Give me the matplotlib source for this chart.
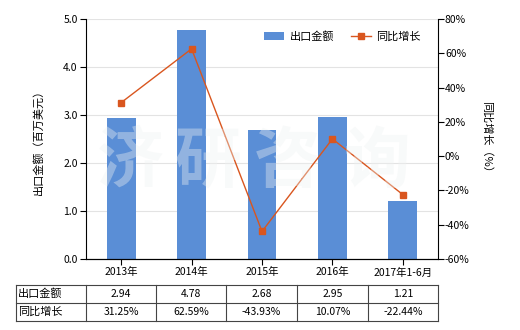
import matplotlib
matplotlib.use("Agg")
import matplotlib.pyplot as plt
import numpy as np

plt.rcParams['font.family'] = ['Noto Sans CJK SC', 'DejaVu Sans']

categories = ['2013年', '2014年', '2015年', '2016年', '2017年1-6月']
export_values = [2.94, 4.78, 2.68, 2.95, 1.21]
growth_values = [31.25, 62.59, -43.93, 10.07, -22.44]
export_labels = ['2.94', '4.78', '2.68', '2.95', '1.21']
growth_labels = ['31.25%', '62.59%', '-43.93%', '10.07%', '-22.44%']

bar_color = '#5a8ed6'
line_color = '#d9561f'
fs = 7.5

fig = plt.figure(figsize=(5.2, 3.3), dpi=100)
ax = fig.add_axes([86/520, 1-259/330, 352/520, 240/330])
x = np.arange(len(categories))
ax.bar(x, export_values, width=0.41, color=bar_color, label='出口金额', zorder=2)
ax.set_xlim(-0.5, len(categories)-0.5)
ax.set_ylim(0, 5)
ax.set_yticks(np.arange(0, 5.01, 1.0))
ax.set_yticklabels([f'{v:.1f}' for v in np.arange(0, 5.01, 1.0)], fontsize=fs)
ax.set_xticks(x)
ax.set_xticklabels(categories, fontsize=fs)
ax.grid(axis='y', color='#e3e3e3', linewidth=0.8, zorder=0)
ax.set_axisbelow(True)
ax.spines['top'].set_visible(False)
ax.spines['right'].set_visible(False)
ax.tick_params(axis='both', length=4, width=0.8, pad=2)
ax.set_ylabel('出口金额（百万美元）', fontsize=fs+0.5, labelpad=14)

ax2 = ax.twinx()
ax2.plot(x, growth_values, color=line_color, linewidth=1, marker='s', markersize=5, label='同比增长', zorder=3)
ax2.set_ylim(-60, 80)
ax2.set_yticks(np.arange(-60, 81, 20))
ax2.set_yticklabels([f'{v}%' for v in range(-60, 81, 20)], fontsize=fs)
ax2.spines['top'].set_visible(False)
ax2.spines['left'].set_visible(False)
ax2.tick_params(axis='y', length=4, width=0.8, pad=1)
ax2.set_ylabel('同比增长（%）', fontsize=fs+0.5, rotation=270, labelpad=16)

# watermark
for ch, cx in zip('济研咨询', [130, 208, 287, 377]):
    fig.text(cx/520, 1-162/330, ch, fontsize=48, color='#eef2f2', alpha=0.38,
             ha='center', va='center', fontweight='bold', zorder=10)

h1, l1 = ax.get_legend_handles_labels()
h2, l2 = ax2.get_legend_handles_labels()
ax2.legend(h1 + h2, l1 + l2, loc='upper right', bbox_to_anchor=(0.98, 0.99), ncol=2,
           frameon=False, fontsize=fs+0.5, handlelength=1.8, columnspacing=1.5, handletextpad=0.5)

# table
col_edges = [16, 86, 156, 226, 297, 368, 438]
row_edges = [285, 303, 321]
rows = [['出口金额'] + export_labels, ['同比增长'] + growth_labels]
for xe in col_edges:
    fig.add_artist(plt.Line2D([xe/520, xe/520], [1-row_edges[0]/330, 1-row_edges[-1]/330],
                              color='#444444', linewidth=0.8))
for ye in row_edges:
    fig.add_artist(plt.Line2D([col_edges[0]/520, col_edges[-1]/520], [1-ye/330, 1-ye/330],
                              color='#444444', linewidth=0.8))
for r, row in enumerate(rows):
    yc = 1 - (row_edges[r] + row_edges[r+1]) / 2 / 330
    for c, txt in enumerate(row):
        if c == 0:
            fig.text((col_edges[0] + 2)/520, yc, txt, fontsize=fs+0.5, ha='left', va='center')
        else:
            xc = (col_edges[c] + col_edges[c+1]) / 2 / 520
            fig.text(xc, yc, txt, fontsize=fs, ha='center', va='center')

fig.savefig('out.png', dpi=100)
